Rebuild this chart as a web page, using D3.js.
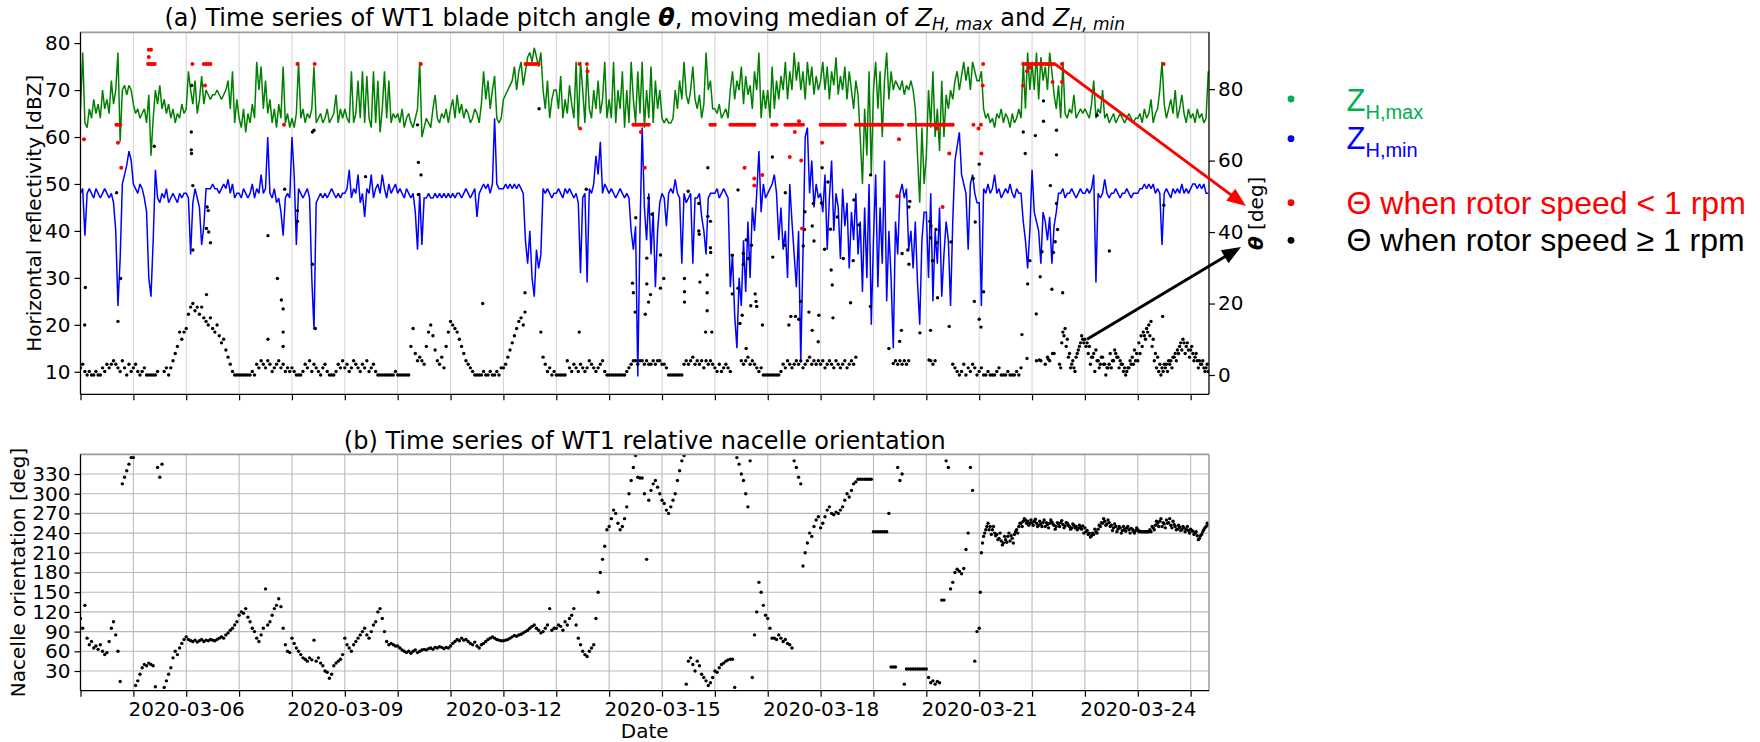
<!DOCTYPE html>
<html>
<head>
<meta charset="utf-8">
<script src="https://cdn.jsdelivr.net/npm/d3@7"></script>
<style>
  body { margin: 0; background: #fff; }
  svg { display: block; font-family: "DejaVu Sans", sans-serif; }
</style>
</head>
<body>
<svg id="chart" width="1760" height="742"></svg>
<script>
// ---------------------------------------------------------------------------
// Hourly records of wind turbine WT1, starting 2020-03-04 00:00 UTC
// ---------------------------------------------------------------------------

// moving median of maximum horizontal reflectivity Z_H,max [dBZ], one value per hour
const zhMax = [
  66,78,63,62,66,64,68,65,67,64,70,66,68,65,72,67,70,78,59,70,71,69,71,70,
  67,65,66,64,65,66,63,69,56,64,70,67,71,66,68,65,67,64,66,63,65,64,67,65,
  66,74,70,67,72,65,68,73,67,70,69,68,69,69,70,69,68,69,70,72,66,74,63,68,
  64,62,66,61,65,63,67,64,76,70,75,66,72,65,68,63,66,62,67,64,75,63,65,62,
  64,62,65,76,64,66,63,65,64,66,75,63,64,65,63,64,66,63,64,65,69,63,66,64,
  66,64,63,74,63,65,72,64,74,63,73,64,62,74,63,72,61,66,74,64,72,63,65,64,
  65,63,66,62,64,65,63,62,64,66,76,60,62,64,63,62,66,69,64,63,65,64,66,63,
  66,68,64,69,65,67,64,66,65,63,64,66,65,63,67,74,68,72,66,70,73,64,63,64,
  68,69,70,71,72,75,70,74,76,71,74,77,78,76,79,77,75,78,70,66,72,64,68,70,
  70,66,73,64,68,65,71,67,64,76,62,76,70,63,75,66,64,70,66,72,65,68,76,64,
  68,64,76,63,70,66,74,62,70,63,76,68,63,74,65,76,62,70,64,75,63,72,66,70,
  64,63,64,63,63,64,70,66,72,68,76,69,67,70,75,68,66,69,64,67,78,70,72,66,
  66,65,67,64,65,66,64,70,74,68,72,70,75,67,73,69,71,66,74,70,78,64,70,66,
  70,64,75,66,72,68,73,70,76,68,74,70,78,72,76,70,74,68,76,71,75,69,73,70,
  72,76,70,75,68,74,71,77,69,73,70,75,68,74,70,66,72,69,60,50,66,56,74,52,
  70,76,66,74,60,72,78,68,74,70,72,71,70,72,69,71,70,72,70,66,56,46,62,50,
  56,70,62,74,60,66,57,72,60,69,66,70,68,72,74,70,73,76,72,75,70,76,74,72,
  72,74,66,64,65,63,64,62,65,64,66,63,65,64,62,65,63,64,66,64,76,66,78,70,
  76,70,78,68,77,72,75,70,78,74,69,66,71,64,76,65,64,66,65,69,64,65,66,65,
  66,65,64,67,72,64,66,65,70,64,65,63,64,65,63,64,65,64,63,64,65,64,63,64,
  64,65,63,66,64,65,68,63,65,66,70,76,67,64,66,68,65,70,64,66,69,65,63,66,
  64,65,63,66,64,65,63,64,74
];

// moving median of minimum horizontal reflectivity Z_H,min [dBZ], one value per hour
const zhMin = [
  48,49,39,48,49,48,47,49,48,47,48,49,48,47,48,46,40,24,34,50,52,54,57,55,
  50,49,48,50,49,47,44,30,26,38,53,47,46,48,47,49,46,47,48,47,46,48,47,48,
  48,47,35,46,49,47,45,37,41,49,49,49,50,49,49,48,49,50,49,51,48,50,47,48,
  48,47,49,48,47,48,50,47,49,48,52,48,49,60,48,47,49,46,47,44,39,47,48,47,
  60,52,37,49,48,47,48,49,47,30,19,46,47,48,47,48,47,48,49,48,47,48,47,48,
  48,49,53,47,49,48,52,46,48,43,49,48,52,47,49,50,48,52,49,47,50,48,49,50,
  48,49,48,47,49,48,47,48,44,36,48,37,47,47,48,47,47,48,47,48,47,48,47,48,
  47,48,47,48,48,47,48,49,48,47,48,49,43,48,49,50,49,50,48,50,64,50,49,49,
  49,50,49,50,49,50,49,50,49,48,38,33,40,30,26,36,32,35,49,48,49,48,47,48,
  48,49,48,47,49,48,49,48,47,48,46,31,47,48,29,49,48,50,56,52,59,48,50,49,
  48,49,48,47,48,49,48,47,48,47,40,36,41,9,40,62,45,38,48,35,44,28,40,46,
  48,47,41,48,49,48,51,48,47,33,48,46,47,48,33,47,47,48,43,40,35,47,48,48,
  48,49,47,48,49,48,47,28,35,22,15,30,24,38,27,42,30,45,40,48,57,44,50,47,
  48,49,50,52,48,38,45,36,40,30,50,42,35,28,40,12,35,60,62,48,55,45,50,47,
  48,44,52,36,47,55,40,48,45,34,49,41,46,32,44,38,48,35,42,27,45,30,50,20,
  38,52,28,45,33,55,25,40,30,15,42,35,48,50,47,49,36,40,32,42,29,20,38,44,
  44,30,48,25,40,33,45,26,35,42,38,24,42,55,58,61,52,50,48,36,50,52,48,46,
  46,24,49,48,50,48,49,52,48,49,47,48,49,48,50,48,47,49,48,48,42,38,32,40,
  53,44,42,40,33,44,42,38,43,33,41,44,48,48,49,47,48,48,49,48,47,48,49,48,
  48,49,48,49,52,29,48,47,48,51,48,47,48,48,49,48,47,48,48,49,48,47,48,48,
  48,49,49,50,49,50,49,50,48,49,48,37,48,49,48,47,49,48,49,48,50,48,49,48,
  49,50,50,49,50,49,50,48,48
];

// blade pitch angle [deg] while the rotor turns at >= 1 rpm, hourly (null = no record)
const pitchRunning = [
  2,3,1,0,1,0,0,1,0,0,2,1,3,2,3,4,3,2,1,4,2,0,3,1,
  2,3,1,0,1,2,0,0,0,0,0,1,null,null,1,2,0,2,4,6,8,12,10,12,
  13,17,19,20,18,19,17,19,16,15,14,16,13,12,14,11,9,10,7,5,3,1,0,0,
  0,0,0,0,0,0,1,0,3,2,4,3,2,4,3,1,2,3,4,2,3,1,2,1,
  2,1,0,0,0,1,3,2,4,1,3,2,1,0,2,3,1,0,0,0,1,3,2,4,
  2,3,1,2,4,3,2,1,3,2,4,1,2,3,1,0,0,0,0,0,0,0,0,1,
  0,0,0,0,0,0,8,13,6,4,5,4,3,8,12,14,11,7,4,3,5,2,8,12,
  15,14,13,12,10,8,6,4,3,2,1,0,0,0,0,1,0,0,1,0,0,1,0,2,
  2,3,5,7,9,11,13,15,16,14,null,null,null,null,null,null,null,12,5,3,1,2,0,1,
  0,0,0,0,0,4,2,1,3,2,1,3,2,1,2,4,3,2,1,2,3,4,1,0,
  0,0,0,0,0,0,0,0,1,2,3,4,4,3,4,4,3,4,3,3,4,3,4,4,
  3,3,2,0,0,0,0,0,0,0,3,4,3,4,5,3,4,3,4,2,4,3,4,3,
  2,1,3,1,2,3,2,1,null,null,null,null,4,3,4,5,3,4,3,2,1,2,0,0,
  0,0,0,0,0,0,1,3,2,4,3,2,3,4,3,4,2,3,4,5,3,4,3,4,
  3,4,2,3,4,3,2,4,3,2,3,4,2,3,4,3,5,null,null,null,null,null,null,null,
  null,null,null,null,null,null,null,null,null,null,4,3,4,3,4,3,4,null,null,null,null,null,null,null,
  null,null,4,3,4,null,null,null,null,null,null,null,3,2,1,0,1,3,0,2,1,3,2,0,
  1,2,0,0,1,0,0,0,1,2,0,0,0,1,0,0,0,1,0,2,null,null,null,null,
  null,null,4,null,4,null,3,5,4,null,6,null,null,2,12,13,10,6,3,2,5,7,9,10,
  10,9,8,5,6,7,4,3,5,3,2,3,2,4,6,5,4,3,2,1,2,3,3,4,
  4,6,8,11,13,14,15,10,6,5,3,2,3,3,4,4,5,6,7,8,7,9,8,7,
  7,6,5,4,4,3,2,2,1
];

// extra half-hour pitch readings (rotor >= 1 rpm) from hour 444.5 onward, one every hour
const pitchHalfHourStart = 444.5;
const pitchRunningHalfHour = [
  3,9,11,8,5,2,4,1,6,8,
  11,9,8,6,3,5,1,4,2,5,
  3,0,2,6,4,7,5,2,3,1,
  0,2,4,5,7,6,9,11,12,10,
  12,11,8,4,2,1,0,1,2,1,
  3,2,5,4,6,9,10,6,9,5,
  8,4,6,2,3,4,1,3
];

// isolated pitch readings with rotor >= 1 rpm: [hours since start, deg]
const pitchRunningScatter = [
  [2.2,24.5],[1.9,14],[17,15],[18.2,27],[16.4,51],[33.5,64],[50.3,68],[50.5,81],[50.3,63],[50.4,62],
  [51,53],[51,35],[57.2,22.5],[57.5,47],[58,46],[57.2,41],[58.2,40],[59,37],[85.1,39],[85.1,10],
  [89.4,27],[91.2,21],[92,18.5],[92,12],[92,8],[92.7,52],[98.5,46],[98.5,43],[105.3,68],[106,68.5],
  [105.3,31],[106.6,13],[129.4,55.5],[153,70],[153.4,59.5],[154.6,56],[153.4,50.5],[182.6,20],
  [201.8,23],[201.8,17.6],[208.2,74.5],[226.4,12],[229.6,52],
  [252.1,44],[250.6,25.7],[251,23],[251.8,17.6],[256.4,17],[257.1,32.7],[257.9,20.4],[257.1,25.5],
  [257.9,49.5],[259.5,45],[258.8,22.5],[263.3,33.6],[263.3,24.3],[264.8,27],
  [274.2,27],[274.2,23.3],[274.2,20.4],[275.9,51.4],[280.7,48],[280.7,40.3],[280.9,39.4],[281.2,26],
  [283.8,12],[284.8,58],[284.8,44.4],[286,43],[286,35.6],[286.1,34.3],[284.5,28],[284.5,23],
  [284.5,18],[286.6,12],[295.9,33.5],[295.9,22.7],[298.5,51.8],[298.5,24.3],[299.4,14.4],[300.4,16.7],
  [300.9,31],[300.9,34],[302.2,7.4],[302.2,37.8],[303.1,32.6],[304.6,36.3],[304.3,19.4],[306.3,22.7],
  [306.7,20.6],[307,19.2],[309.6,14],[314.1,61],[314.3,33],[320,51],[319.6,36.3],[321.6,14],
  [322.5,16.4],[324.6,16.4],[326.1,15.6],[326.9,20.6],[328.9,45.7],[328.1,36.1],[328.7,40.7],
  [330.7,17.6],[332.2,41.7],[332.2,12.5],[333,37.5],[332.7,48],[334.9,9.3],[335.2,16.7],[336.7,58],
  [336.4,48.1],[337.8,35.2],[339.3,54],[340.5,40.8],[340.8,29.4],[341.3,25.2],[341.6,16],[343.6,44.2],
  [346.3,32.6],[349.6,20.2],[350.8,32],[351.1,49],[353.4,42],[358.7,56],[358.6,19.2],
  [367,7.4],[369,3.2],[372.7,12.5],[371.9,9.4],[373,34],[375.6,35],[376.1,31],[376.1,47],[376.5,48.6],
  [381.1,11.8],[385.6,43],[385.9,12.5],[385.9,38.4],[385.2,4.2],[386.1,41.7],[386.8,32],[388.4,40.7],
  [388.7,37],[389.1,21.6],[395.2,37.2],[394.4,13.6],[405.3,55],[406.2,42.8],[405.8,20.6],[408,15.6],
  [408.8,13.4],[410,23.3],[408,59],[427.4,11.3],[428,68],[428.9,62],[430,25.5],[431,32],[433.5,67],
  [433.9,17.1],[435.7,27.5],[437.2,76.7],[437.2,71],[440.3,53],[441,24],[436.5,34.5],[441.7,34.3],
  [443.1,68.5],[443.1,61.6],[443.1,48],[442.5,37.3],[443.6,40.7],[445.9,23],[429.7,4.6],[435.3,4.2],
  [439.4,4.4],[441.3,6],[461.5,72.7],[467.1,34.7],[491.3,16.4],[491.8,47.5]
];

// pitch readings while the rotor turns at < 1 rpm: [hours since start, deg]
const pitchStopped = [
  [1.6,66],[16.3,70],[17,70],[18,70],[17,65],[18.5,58],
  [30.7,87],[31.5,87],[32.3,87],[33,87],[33.7,87],[31,89],[31,91],[32,91],
  [50.8,87],[56,87],[57,87],[58,87],[59,87],[56.5,81],
  [92.4,70],[98.5,87],[106.3,87],[154.5,87],
  [202,87],[203,87],[204,87],[205,87],[206,87],[207,87],[208,87],
  [226.5,87],[229.9,87],[230.2,85],[226.8,69],
  [251,70],[252,70],[253,70],[254,70],[255,70],[256,70],[257,70],[258,70],[254.4,68],[256.2,58],
  [286,70],[287,70],[288,70],
  [295,70],[296,70],[297,70],[298,70],[299,70],[300,70],[301,70],[302,70],[303,70],[304,70],[305,70],[306,70],
  [301.5,58],[305.9,53],[305.9,55],[309.5,56],
  [314,70],[315,70],[316,70],
  [320,70],[321,70],[322,70],[323,70],[324,70],[325,70],[326,70],[327,70],[328,70],
  [322,61],[327.2,60],[326.2,71],[324.3,68],[327.6,41],[336.7,65],
  [336,70],[337,70],[338,70],[339,70],[340,70],[341,70],[342,70],[343,70],[344,70],[345,70],[346,70],[347,70],
  [352,70],[353,70],[354,70],[355,70],[356,70],[357,70],[358,70],[359,70],[360,70],[361,70],[362,70],
  [363,70],[364,70],[365,70],[366,70],[367,70],[368,70],[369,70],[370,70],[371,70],[372,70],[373,70],
  [376,70],[377,70],[378,70],[379,70],[380,70],[381,70],[382,70],[383,70],[384,70],[385,70],[386,70],
  [387,70],[388,70],[389,70],[390,70],[391,70],[392,70],[393,70],[394,70],[395,70],[396,70],
  [370.8,50],[371.6,66],
  [391.4,47],[394.4,62],[389.1,69],[405.4,70],[407.7,69],[408.8,70],[409,62],[409.6,81],[409.8,87],
  [428,87],[429,87],[430,87],[431,87],[432,87],[433,87],[434,87],[435,87],[436,87],[437,87],[438,87],
  [439,87],[440,87],[441,87],[442,87],
  [428,81],[429.7,85],[431.2,86],[441.3,82],[445.6,82],[445.6,87],
  [491.7,87]
];

// relative nacelle orientation of WT1 [deg], hourly
const nacelle = [
  110,95,130,80,70,75,65,68,63,70,60,55,58,75,95,105,85,60,14,315,325,335,345,355,
  355,8,15,25,35,40,38,42,40,38,6,340,325,345,5,15,25,35,50,60,55,65,72,78,
  82,78,76,75,77,74,76,78,75,77,76,78,77,76,78,80,82,80,85,88,92,95,100,105,
  115,120,118,125,112,105,95,90,80,75,85,95,155,100,105,115,125,130,140,128,95,70,60,58,
  80,72,65,60,55,50,48,45,50,47,77,45,50,42,38,30,28,19,25,38,42,45,48,55,
  80,70,65,60,70,75,80,85,90,95,85,80,90,100,105,120,125,110,90,75,70,72,70,68,
  68,65,62,60,58,60,57,60,62,58,60,62,63,62,64,65,63,66,65,67,66,64,66,65,
  68,72,75,78,76,80,77,78,75,72,70,74,68,65,70,72,75,78,80,82,80,78,77,76,
  76,77,78,80,82,84,83,85,86,88,90,92,95,98,100,95,92,88,90,95,100,125,92,95,
  95,100,98,92,105,100,110,115,125,100,80,70,60,55,52,60,65,70,110,150,180,200,220,245,
  250,262,275,270,255,245,250,262,280,300,320,340,358,325,324,324,300,200,290,305,315,320,310,300,
  290,285,275,270,280,290,300,320,335,350,358,10,45,50,40,30,45,38,25,20,15,8,12,20,
  30,28,35,40,42,45,47,48,48,5,355,345,330,320,300,280,350,20,85,120,165,150,130,115,
  110,95,80,80,78,85,80,75,78,72,70,65,350,340,325,315,190,210,225,240,235,250,260,265,
  248,255,265,275,280,270,268,272,270,275,280,290,300,295,305,315,318,322,322,322,322,322,322,322,
  242,242,242,242,242,242,242,270,36,36,36,340,320,330,10,33,33,33,33,33,33,33,33,33,
  33,20,12,15,10,14,12,138,138,350,340,155,165,180,185,182,178,186,215,240,340,305,45,90,
  95,210,235,245,255,250,245,240,238,232,228,225,230,235,228,232,238,245,250,255,258,260,258,255,
  256,258,255,252,254,256,250,253,255,257,252,250,254,256,253,251,255,250,248,252,250,247,249,251,
  248,244,240,236,238,242,246,250,255,258,254,256,252,248,250,246,248,244,246,248,245,247,243,244,
  245,243,242,242,242,242,242,248,252,255,258,250,254,260,256,252,258,250,246,249,245,248,246,244,
  246,243,240,236,232,238,245,250,252
];

// extra half-hour nacelle readings from hour 408.5 onward, one every hour
const nacelleHalfHourStart = 408.5;
const nacelleHalfHour = [
  150,225,240,250,245,238,250,236,230,240,222,235,226,240,236,225,242,240,255,250,262,255,252,260,
  252,261,250,258,250,260,256,248,260,254,246,256,250,259,248,256,252,246,254,248,245,252,246,240,
  242,238,234,240,246,240,252,256,262,252,260,250,244,254,242,250,240,250,243,250,240,246,240,248,
  242,242,242,242,242,245,250,245,258,250,262,256,248,255,262,248,253,245,252,244,250,242,250,240,
  244,238,242,230,236,242,248,255
];

// axis ticks
const dbzTicks = [10, 20, 30, 40, 50, 60, 70, 80];
const thetaTicks = [0, 20, 40, 60, 80];
const nacelleTicks = [30, 60, 90, 120, 150, 180, 210, 240, 270, 300, 330];
const dateTickLabels = ["2020-03-06", "2020-03-09", "2020-03-12", "2020-03-15",
                        "2020-03-18", "2020-03-21", "2020-03-24"];

// ---------------------------------------------------------------------------
const START = Date.UTC(2020, 2, 4, 0, 0);
const END = Date.UTC(2020, 2, 25, 8, 20);
const HOUR = 3600e3;
const at = h => new Date(START + h * HOUR);

const L = 80.5, R = 1209;
const aTop = 32.3, aBot = 394.3;
const bTop = 454.3, bBot = 690.7;
const CX = (L + R) / 2;

const svg = d3.select("#chart");

const x = d3.scaleUtc().domain([new Date(START), new Date(END)]).range([L, R]);
const yZ = d3.scaleLinear().domain([5.2, 82.3]).range([aBot, aTop]);
const yT = d3.scaleLinear().domain([-5.4, 95.9]).range([aBot, aTop]);
const yN = d3.scaleLinear().domain([0, 360]).range([bBot, bTop]);

const days = d3.utcDay.range(new Date(START), new Date(END));
const fmtDay = d3.utcFormat("%Y-%m-%d");

const defs = svg.append("defs");
defs.append("clipPath").attr("id", "clipA")
  .append("rect").attr("x", L).attr("y", aTop).attr("width", R - L).attr("height", aBot - aTop);
defs.append("clipPath").attr("id", "clipB")
  .append("rect").attr("x", L).attr("y", bTop - 2).attr("width", R - L).attr("height", bBot - bTop + 4);

function styleAxis(g) {
  g.select(".domain").remove();
  g.selectAll(".tick line").attr("stroke", "#000").attr("stroke-width", 1.2);
  g.selectAll(".tick text").attr("fill", "#000")
    .attr("font-family", "DejaVu Sans, sans-serif").attr("font-size", 20);
  // unlabeled ticks keep only their mark
  g.selectAll(".tick text").filter(function () { return this.textContent === ""; }).remove();
}

// ------------------------- panel (a) ---------------------------------------
const gA = svg.append("g");

gA.append("g").selectAll("line").data(days.slice(1)).join("line")
  .attr("x1", d => x(d)).attr("x2", d => x(d))
  .attr("y1", aTop).attr("y2", aBot)
  .attr("stroke", "#d2d2d2").attr("stroke-width", 1);

const zLine = d3.line()
  .defined(d => d != null)
  .x((d, i) => x(at(i)))
  .y(d => yZ(d));

const lines = gA.append("g").attr("clip-path", "url(#clipA)");
lines.append("path").attr("d", zLine(zhMin))
  .attr("fill", "none").attr("stroke", "#0000ff").attr("stroke-width", 1.5)
  .attr("stroke-linejoin", "miter").attr("stroke-miterlimit", 2);
lines.append("path").attr("d", zLine(zhMax))
  .attr("fill", "none").attr("stroke", "#008000").attr("stroke-width", 1.5)
  .attr("stroke-linejoin", "miter").attr("stroke-miterlimit", 2);

const runningPts = pitchRunning.map((v, i) => [i, v]).filter(d => d[1] != null)
  .concat(pitchRunningHalfHour.map((v, i) => [pitchHalfHourStart + i, v]))
  .concat(pitchRunningScatter);
const dots = gA.append("g").attr("clip-path", "url(#clipA)");
dots.selectAll("circle.run").data(runningPts).join("circle")
  .attr("class", "run")
  .attr("cx", d => x(at(d[0]))).attr("cy", d => yT(d[1])).attr("r", 1.7).attr("fill", "#000");
dots.selectAll("circle.stop").data(pitchStopped).join("circle")
  .attr("class", "stop")
  .attr("cx", d => x(at(d[0]))).attr("cy", d => yT(d[1])).attr("r", 2).attr("fill", "#ff0000");

// spines
gA.append("line").attr("x1", L).attr("x2", R).attr("y1", aTop).attr("y2", aTop)
  .attr("stroke", "#9a9a9a").attr("stroke-width", 1.8);
gA.append("line").attr("x1", L).attr("x2", L).attr("y1", aTop).attr("y2", aBot)
  .attr("stroke", "#000").attr("stroke-width", 1.3);
gA.append("line").attr("x1", R).attr("x2", R).attr("y1", aTop).attr("y2", aBot)
  .attr("stroke", "#000").attr("stroke-width", 1.3);
gA.append("line").attr("x1", L).attr("x2", R).attr("y1", aBot).attr("y2", aBot)
  .attr("stroke", "#000").attr("stroke-width", 1.3);

gA.append("g").attr("transform", `translate(${L},0)`)
  .call(d3.axisLeft(yZ).tickValues(dbzTicks).tickSize(6).tickPadding(4))
  .call(styleAxis);
gA.append("g").attr("transform", `translate(${R},0)`)
  .call(d3.axisRight(yT).tickValues(thetaTicks).tickSize(6).tickPadding(3))
  .call(styleAxis);
gA.append("g").attr("transform", `translate(0,${aBot})`)
  .call(d3.axisBottom(x).tickValues(days).tickSize(6).tickFormat(""))
  .call(styleAxis);

// title (a)
const tA = svg.append("text").attr("x", CX).attr("y", 26)
  .attr("text-anchor", "middle").attr("font-size", 24).attr("fill", "#000");
tA.append("tspan").text("(a) Time series of WT1 blade pitch angle ");
tA.append("tspan").attr("font-weight", "bold").attr("font-style", "italic").text("θ");
tA.append("tspan").text(", moving median of ");
tA.append("tspan").attr("font-style", "italic").text("Z");
tA.append("tspan").attr("font-style", "italic").attr("font-size", 17).attr("dy", 4).text("H, max");
tA.append("tspan").attr("dy", -4).text(" and ");
tA.append("tspan").attr("font-style", "italic").text("Z");
tA.append("tspan").attr("font-style", "italic").attr("font-size", 17).attr("dy", 4).text("H, min");

svg.append("text")
  .attr("transform", `translate(41,${(aTop + aBot) / 2}) rotate(-90)`)
  .attr("text-anchor", "middle").attr("font-size", 20)
  .text("Horizontal reflectivity [dBZ]");

const tTheta = svg.append("text")
  .attr("transform", `translate(1263,${(aTop + aBot) / 2}) rotate(-90)`)
  .attr("text-anchor", "middle").attr("font-size", 20);
tTheta.append("tspan").attr("font-weight", "bold").attr("font-style", "italic").text("θ");
tTheta.append("tspan").text(" [deg]");

// ------------------------- panel (b) ---------------------------------------
const gB = svg.append("g");

gB.append("g").selectAll("line").data(nacelleTicks).join("line")
  .attr("x1", L).attr("x2", R).attr("y1", d => yN(d)).attr("y2", d => yN(d))
  .attr("stroke", "#b9b9b9").attr("stroke-width", 1.1);
gB.append("g").selectAll("line").data(days.slice(1)).join("line")
  .attr("x1", d => x(d)).attr("x2", d => x(d)).attr("y1", bTop).attr("y2", bBot)
  .attr("stroke", "#b9b9b9").attr("stroke-width", 1.1);

const nacellePts = nacelle.map((v, i) => [i, v])
  .concat(nacelleHalfHour.map((v, i) => [nacelleHalfHourStart + i, v]));
gB.append("g").attr("clip-path", "url(#clipB)")
  .selectAll("circle").data(nacellePts).join("circle")
  .attr("cx", d => x(at(d[0]))).attr("cy", d => yN(d[1])).attr("r", 1.7).attr("fill", "#000");

gB.append("line").attr("x1", L).attr("x2", R).attr("y1", bTop).attr("y2", bTop)
  .attr("stroke", "#9a9a9a").attr("stroke-width", 1.8);
gB.append("line").attr("x1", R).attr("x2", R).attr("y1", bTop).attr("y2", bBot)
  .attr("stroke", "#9a9a9a").attr("stroke-width", 1.5);
gB.append("line").attr("x1", L).attr("x2", L).attr("y1", bTop).attr("y2", bBot)
  .attr("stroke", "#000").attr("stroke-width", 1.3);
gB.append("line").attr("x1", L).attr("x2", R).attr("y1", bBot).attr("y2", bBot)
  .attr("stroke", "#000").attr("stroke-width", 1.3);

gB.append("g").attr("transform", `translate(${L},0)`)
  .call(d3.axisLeft(yN).tickValues(nacelleTicks).tickSize(6).tickPadding(4))
  .call(styleAxis);
gB.append("g").attr("transform", `translate(0,${bBot})`)
  .call(d3.axisBottom(x).tickValues(days).tickSize(6).tickPadding(5.5)
    .tickFormat(d => dateTickLabels.includes(fmtDay(d)) ? fmtDay(d) : ""))
  .call(styleAxis);

svg.append("text").attr("x", CX).attr("y", 449)
  .attr("text-anchor", "middle").attr("font-size", 24)
  .text("(b) Time series of WT1 relative nacelle orientation");
svg.append("text")
  .attr("transform", `translate(25,${(bTop + bBot) / 2}) rotate(-90)`)
  .attr("text-anchor", "middle").attr("font-size", 20)
  .text("Nacelle orientation [deg]");
svg.append("text").attr("x", CX).attr("y", 737.5)
  .attr("text-anchor", "middle").attr("font-size", 20).text("Date");

// ------------------------- annotations -------------------------------------
function arrow(x1, y1, x2, y2, color) {
  const dx = x2 - x1, dy = y2 - y1, len = Math.hypot(dx, dy);
  const ux = dx / len, uy = dy / len, hl = 19, hw = 7.5;
  const bx = x2 - ux * hl, by = y2 - uy * hl;
  svg.append("line").attr("x1", x1).attr("y1", y1).attr("x2", bx + ux * 2).attr("y2", by + uy * 2)
    .attr("stroke", color).attr("stroke-width", 3);
  svg.append("path")
    .attr("d", `M${x2},${y2}L${bx - uy * hw},${by + ux * hw}L${bx + uy * hw},${by - ux * hw}Z`)
    .attr("fill", color);
}
arrow(x(at(442.5)), yT(87), 1246, 206, "#ff0000");
arrow(x(at(457)), yT(10), 1241, 247, "#000000");

// legend
const leg = svg.append("g").attr("font-family", "Liberation Sans, Arial, sans-serif");
const legendRows = [
  { cy: 99, color: "#00b050" },
  { cy: 138.7, color: "#0000ff" },
  { cy: 202.7, color: "#ff0000" },
  { cy: 240.3, color: "#000000" }
];
leg.selectAll("circle").data(legendRows).join("circle")
  .attr("cx", 1291).attr("cy", d => d.cy).attr("r", 3.4).attr("fill", d => d.color);

const lz1 = leg.append("text").attr("x", 1346.5).attr("y", 110.7).attr("fill", "#00b050").attr("font-size", 31);
lz1.append("tspan").text("Z");
lz1.append("tspan").attr("font-size", 20).attr("dy", 8).text("H,max");
const lz2 = leg.append("text").attr("x", 1346.5).attr("y", 149.3).attr("fill", "#0000ff").attr("font-size", 31);
lz2.append("tspan").text("Z");
lz2.append("tspan").attr("font-size", 20).attr("dy", 7.5).text("H,min");
leg.append("text").attr("x", 1346.5).attr("y", 214.3).attr("fill", "#ff0000").attr("font-size", 32)
  .text("Θ when rotor speed < 1 rpm");
leg.append("text").attr("x", 1346.5).attr("y", 250.7).attr("fill", "#000").attr("font-size", 32)
  .text("Θ when rotor speed ≥ 1 rpm");
</script>
</body>
</html>
